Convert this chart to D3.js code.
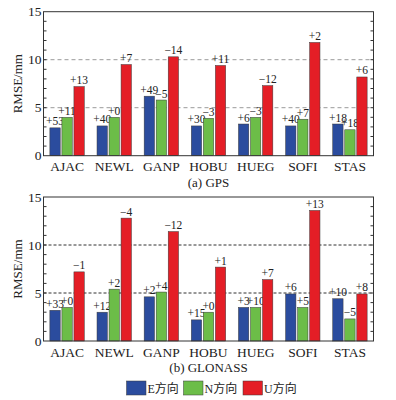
<!DOCTYPE html>
<html>
<head>
<meta charset="utf-8">
<script src="https://cdn.jsdelivr.net/npm/d3@7"></script>
<style>
  body { margin: 0; background: #fff; }
</style>
</head>
<body>
<div class="chart"></div>
<script>
// Data
var stations = ["AJAC", "NEWL", "GANP", "HOBU", "HUEG", "SOFI", "STAS"];
var directions = ["E", "N", "U"];
var legendLabels = ["E方向", "N方向", "U方向"];
var colors = ["#2b4c9e", "#6cbd48", "#e41e26"];
var yTicks = [0, 5, 10, 15];

var gpsE = [2.9, 3.1, 6.2, 3.1, 3.3, 3.1, 3.3];
var gpsN = [4.0, 4.0, 5.8, 3.9, 4.0, 3.8, 2.7];
var gpsU = [7.2, 9.5, 10.3, 9.4, 7.3, 11.8, 8.2];
var gpsLabE = ["+53", "+40", "+49", "+30", "+6", "+40", "+18"];
var gpsLabN = ["+11", "+0", "−5", "−3", "−3", "+7", "+18"];
var gpsLabU = ["+13", "+7", "−14", "+11", "−12", "+2", "+6"];

var gloE = [3.2, 3.0, 4.6, 2.2, 3.5, 4.9, 4.4];
var gloN = [3.5, 5.4, 5.1, 3.0, 3.5, 3.5, 2.3];
var gloU = [7.2, 12.8, 11.4, 7.7, 6.4, 13.6, 4.9];
var gloLabE = ["+33", "+12", "+2", "+15", "+3", "+6", "+10"];
var gloLabN = ["+0", "+2", "+4", "+0", "+10", "+5", "−5"];
var gloLabU = ["−1", "−4", "−12", "+1", "+7", "+13", "+8"];

// Set up chart
var svgWidth = 396;
var svgHeight = 400;
var plotLeft = 43.5;
var plotRight = 373.5;
var serif = "'Liberation Serif', 'DejaVu Serif', serif";

var svg = d3.select(".chart")
    .append("svg")
    .attr("width", svgWidth)
    .attr("height", svgHeight)
    .attr("font-family", serif)
    .attr("fill", "#222");

var xScale = d3.scaleBand().domain(stations).range([plotLeft, plotRight]);
var subScale = d3.scaleBand().domain(directions).range([-17.2, 17.2]).paddingInner(0.14);

function drawPanel(top, bottom, values, labels, title, gridColor, gridDash) {
    var y = d3.scaleLinear().domain([0, 15]).range([bottom, top]);
    var g = svg.append("g");

    // dashed grid at 5 and 10
    g.selectAll(".grid")
        .data([5, 10])
        .enter()
        .append("line")
        .attr("x1", plotLeft)
        .attr("x2", plotRight)
        .attr("y1", function (d) { return y(d); })
        .attr("y2", function (d) { return y(d); })
        .attr("stroke", gridColor)
        .attr("stroke-width", 1)
        .attr("stroke-dasharray", gridDash);

    // bars and change labels
    stations.forEach(function (s, i) {
        directions.forEach(function (dir, j) {
            var x0 = xScale(s) + xScale.bandwidth() / 2 + subScale(dir);
            g.append("rect")
                .attr("x", x0)
                .attr("y", y(values[j][i]))
                .attr("width", subScale.bandwidth())
                .attr("height", bottom - y(values[j][i]))
                .attr("fill", colors[j])
                .attr("stroke", "#3a3a3a")
                .attr("stroke-width", 0.5);
            g.append("text")
                .attr("x", x0 + subScale.bandwidth() / 2)
                .attr("y", y(values[j][i]) - 2.5)
                .attr("text-anchor", "middle")
                .attr("font-family", serif)
                .style("font-size", "11.5px")
                .text(labels[j][i]);
        });
    });

    // minor ticks on left and right, inward
    var minor = d3.range(1, 15);
    g.selectAll(".tl")
        .data(minor)
        .enter()
        .append("line")
        .attr("x1", plotLeft)
        .attr("x2", plotLeft + 3)
        .attr("y1", function (d) { return y(d); })
        .attr("y2", function (d) { return y(d); })
        .attr("stroke", "#333");
    g.selectAll(".tr")
        .data(minor)
        .enter()
        .append("line")
        .attr("x1", plotRight)
        .attr("x2", plotRight - 3)
        .attr("y1", function (d) { return y(d); })
        .attr("y2", function (d) { return y(d); })
        .attr("stroke", "#333");

    // frame
    g.append("rect")
        .attr("x", plotLeft)
        .attr("y", top)
        .attr("width", plotRight - plotLeft)
        .attr("height", bottom - top)
        .attr("fill", "none")
        .attr("stroke", "#333")
        .attr("stroke-width", 1);

    // y tick labels
    g.selectAll(".ylab")
        .data(yTicks)
        .enter()
        .append("text")
        .attr("x", plotLeft - 2)
        .attr("y", function (d) { return y(d) + 4.5; })
        .attr("text-anchor", "end")
        .attr("font-family", serif)
        .style("font-size", "13.5px")
        .text(function (d) { return d; });

    // category labels
    g.selectAll(".xlab")
        .data(stations)
        .enter()
        .append("text")
        .attr("x", function (d) { return xScale(d) + xScale.bandwidth() / 2; })
        .attr("y", bottom + 15.5)
        .attr("text-anchor", "middle")
        .attr("font-family", serif)
        .style("font-size", "13.5px")
        .text(function (d) { return d; });

    // y-axis title
    g.append("text")
        .attr("transform", "translate(22," + (top + bottom) / 2 + ") rotate(-90)")
        .attr("text-anchor", "middle")
        .attr("font-family", serif)
        .style("font-size", "13px")
        .text("RMSE/mm");

    // panel title
    g.append("text")
        .attr("x", (plotLeft + plotRight) / 2)
        .attr("y", bottom + 31)
        .attr("text-anchor", "middle")
        .attr("font-family", serif)
        .style("font-size", "13px")
        .text(title);
}

drawPanel(11.7, 155.7, [gpsE, gpsN, gpsU], [gpsLabE, gpsLabN, gpsLabU], "(a) GPS", "#9a9a9a", "4,3");
drawPanel(197, 341, [gloE, gloN, gloU], [gloLabE, gloLabN, gloLabU], "(b) GLONASS", "#333", "3,2");

// Legend
var legendX = [126.5, 183.5, 243];
var legend = svg.append("g");
legendLabels.forEach(function (lab, i) {
    legend.append("rect")
        .attr("x", legendX[i])
        .attr("y", 381)
        .attr("width", 19.5)
        .attr("height", 14)
        .attr("fill", colors[i])
        .attr("stroke", "#3a3a3a")
        .attr("stroke-width", 0.5);
    legend.append("text")
        .attr("x", legendX[i] + 21)
        .attr("y", 393)
        .attr("font-family", serif + ", 'Noto Sans CJK SC'")
        .style("font-size", "12px")
        .text(lab);
});
</script>
</body>
</html>
